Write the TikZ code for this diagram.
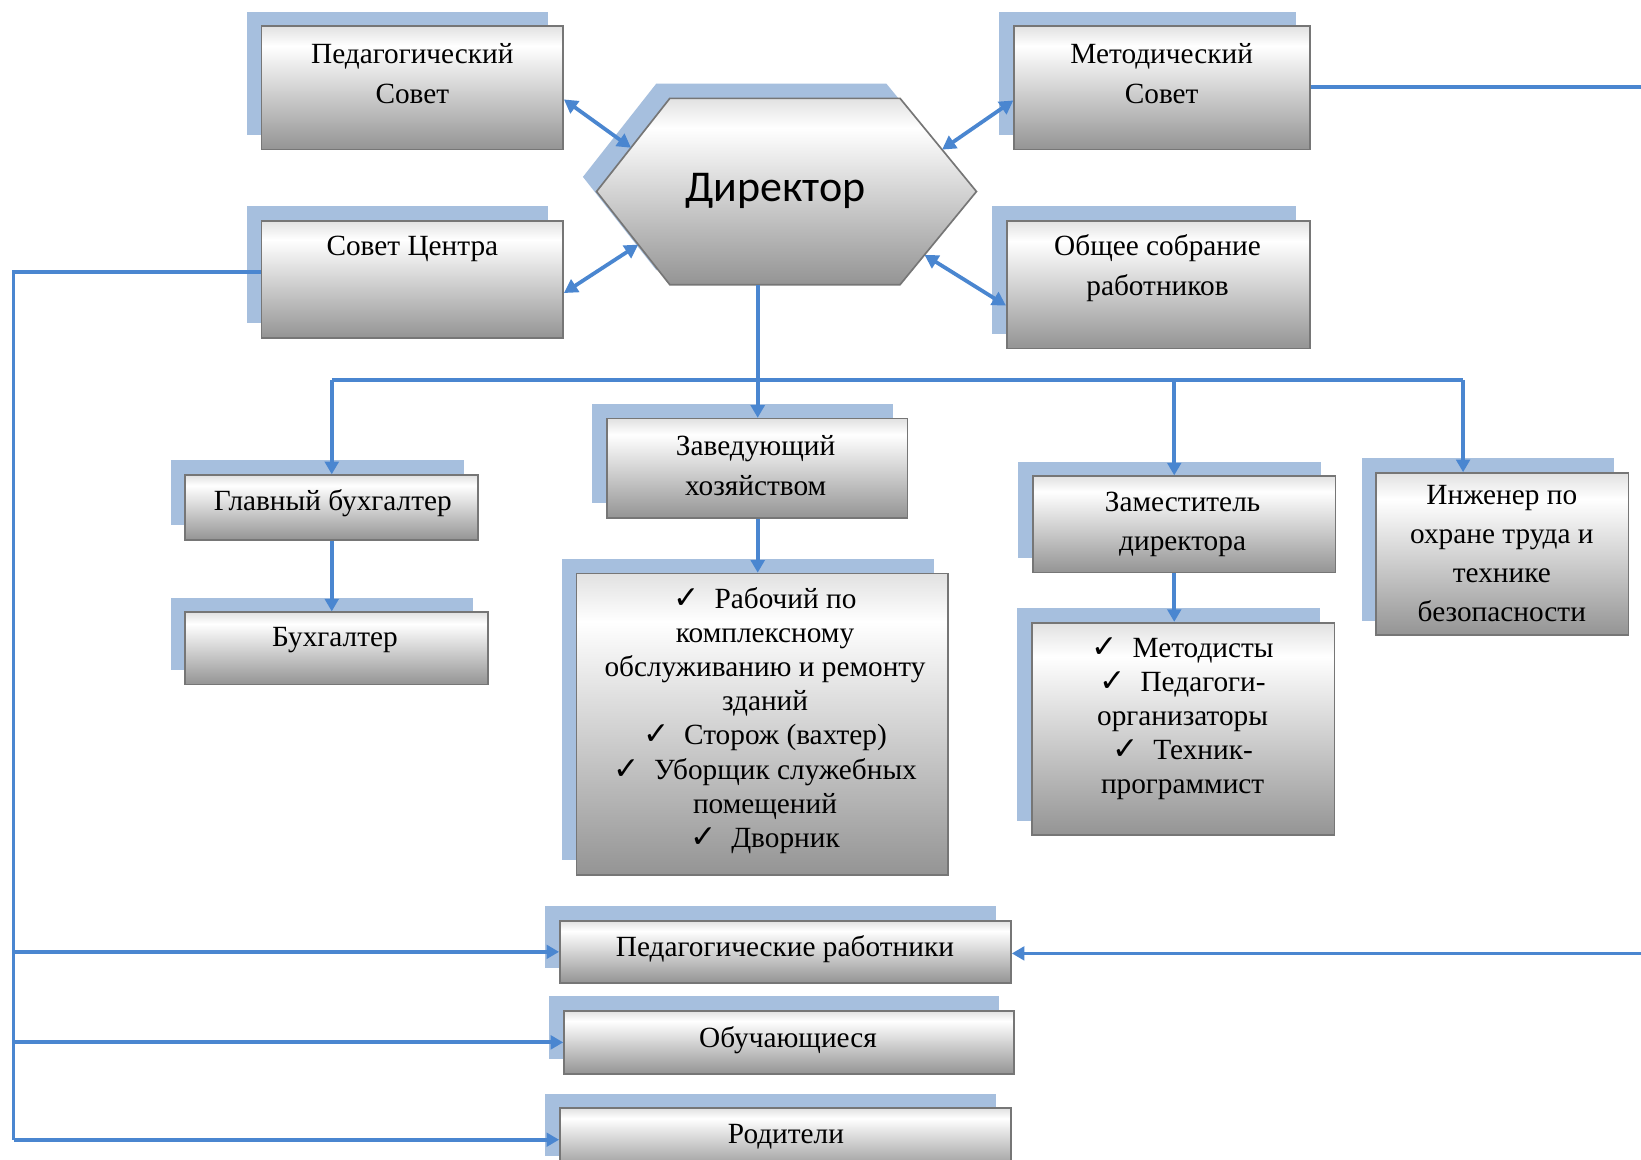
\documentclass[tikz,border=0pt]{standalone}
\usepackage{fontspec}
\setmainfont{Liberation Serif}
\newfontfamily\dirfont{Carlito}
\newfontfamily\symfont{DejaVu Sans}
\usetikzlibrary{arrows.meta,shadows,calc}
\definecolor{shblue}{RGB}{166,191,222}
\definecolor{lnblue}{RGB}{74,134,208}
\definecolor{bord}{RGB}{118,118,118}
\definecolor{gtop}{RGB}{225,225,225}
\definecolor{gbot}{RGB}{148,148,148}
\pgfdeclareverticalshading{boxshade}{100bp}{color(0bp)=(gbot);color(25bp)=(gbot);color(67bp)=(white);color(75bp)=(gtop);color(100bp)=(gtop)}
\newcommand{\chk}{{\symfont\fontsize{30}{30}\selectfont ✓}\enspace}
\begin{document}
\begin{tikzpicture}[x=1pt,y=-1pt,
  box/.style={draw=bord, line width=1.6pt, shade, shading=boxshade,
    general shadow={fill=shblue, shadow xshift=-14pt, shadow yshift=14pt},
    inner sep=0pt},
  txt/.style={font=\fontsize{28}{38}\selectfont, align=center, inner sep=0pt},
  lst/.style={font=\fontsize{28}{32.6}\selectfont, align=center, inner sep=0pt},
  conn/.style={draw=lnblue, line width=3.6pt},
  tip/.style={-{Triangle[length=12pt,width=13pt]}},
  dtip/.style={{Triangle[length=13pt,width=14pt]}-{Triangle[length=13pt,width=14pt]}}
]
\useasboundingbox[fill=white] (0,0) rectangle (1568,1108);

% Director hexagon
\coordinate (h1) at (570,183);
\coordinate (h2) at (640,94);
\coordinate (h3) at (860,94);
\coordinate (h4) at (933,183);
\coordinate (h5) at (860,272);
\coordinate (h6) at (640,272);
\fill[shblue] (557,169) -- (627,80) -- (847,80) -- (920,169) -- (847,258) -- (627,258) -- cycle;
\shade[shading=boxshade, draw=bord, line width=1.6pt] (h1) -- (h2) -- (h3) -- (h4) -- (h5) -- (h6) -- cycle;
\node[inner sep=0pt, font=\dirfont\fontsize{42}{42}\selectfont] (dir) at (741,182) {Директор};

% boxes
\node[box, minimum width=288pt, minimum height=118pt] (ps) at (394,84) {};
\node[txt] (pst) at (394,70) {Педагогический\\Совет};
\node[box, minimum width=283pt, minimum height=118pt] (ms) at (1110.5,84) {};
\node[txt] (mst) at (1110,70) {Методический\\Совет};
\node[box, minimum width=288pt, minimum height=112pt] (sc) at (394,267) {};
\node[txt] (sct) at (394,238) {Совет Центра};
\node[box, minimum width=290pt, minimum height=122pt] (os) at (1107,272) {};
\node[txt] (ost) at (1106,256.5) {Общее собрание\\работников};

\node[box, minimum width=287pt, minimum height=95pt] (zav) at (723.5,447.5) {};
\node[txt] (zavt) at (722,445) {Заведующий\\хозяйством};
\node[box, minimum width=280pt, minimum height=62pt] (gb) at (317,485) {};
\node[txt] (gbt) at (318,481) {Главный бухгалтер};
\node[box, minimum width=289pt, minimum height=69pt] (buh) at (321.5,619.5) {};
\node[txt] (buht) at (320,612) {Бухгалтер};
\node[box, minimum width=355pt, minimum height=288pt] (rab) at (728.5,692) {};
\node[lst] (rabt) at (731,688.5) {\chk Рабочий по\\комплексному\\обслуживанию и ремонту\\зданий\\\chk Сторож (вахтер)\\\chk Уборщик служебных\\помещений\\\chk Дворник};
\node[box, minimum width=289pt, minimum height=92pt] (zam) at (1131.5,501) {};
\node[txt] (zamt) at (1130,501) {Заместитель\\директора};
\node[box, minimum width=289pt, minimum height=203pt] (md) at (1130.5,696.5) {};
\node[lst] (mdt) at (1130,686.5) {\chk Методисты\\\chk Педагоги-\\организаторы\\\chk Техник-\\программист};
\node[box, minimum width=241pt, minimum height=155pt] (ing) at (1435.5,529.5) {};
\node[txt, font=\fontsize{28}{37.5}\selectfont] (ingt) at (1435,529) {Инженер по\\охране труда и\\технике\\безопасности};

\node[box, minimum width=431pt, minimum height=59pt] (ped) at (750.5,909.5) {};
\node[txt] (pedt) at (750,907) {Педагогические работники};
\node[box, minimum width=430pt, minimum height=60pt] (obu) at (754,996) {};
\node[txt] (obut) at (753,994) {Обучающиеся};
\node[box, minimum width=431pt, minimum height=60pt] (rod) at (750.5,1089) {};
\node[txt] (rodt) at (751,1086) {Родители};

% connectors around director
\draw[conn,dtip] ([yshift=-11pt]ps.east) -- ($(h1)!0.47!(h2)$);
\draw[conn,dtip] ([yshift=-13pt]sc.east) -- ($(h1)!0.57!(h6)$);
\draw[conn,dtip] ([yshift=-12pt]ms.west) -- ($(h3)!0.55!(h4)$);
\draw[conn,dtip] ([yshift=-20pt]os.west) -- ($(h4)!0.68!(h5)$);

% right side
\coordinate (r1) at (1568,83);
\coordinate (r2) at (1568,911);
\draw[conn] (ms.east |- r1) -- (r1);
\draw[conn,tip] (r2) -- (ped.east |- r2);

% left side
\coordinate (L) at (13,260);
\draw[conn] (sc.west |- L) -- (L) -- (L |- rod.west);
\draw[conn,tip] (L |- rod.west) -- (rod.west);
\draw[conn,tip] (L |- ped.west) -- (ped.west);
\draw[conn,tip] (L |- obu.west) -- (obu.west);

% tree below director
\coordinate (hb) at (724,272);
\coordinate (j) at (724,363);
\coordinate (b1) at (317,363);
\coordinate (b3) at (1122,363);
\coordinate (b4) at (1398,363);
\draw[conn] (hb) -- (j);
\draw[conn,tip] (j) -- (j |- zav.north);
\draw[conn] (b1) -- (b4);
\draw[conn,tip] (b1) -- (b1 |- gb.north);
\draw[conn,tip] (b3) -- (b3 |- zam.north);
\draw[conn,tip] (b4) -- (b4 |- ing.north);
\draw[conn,tip] (b1 |- gb.south) -- (b1 |- buh.north);
\draw[conn,tip] (j |- zav.south) -- (j |- rab.north);
\draw[conn,tip] (b3 |- zam.south) -- (b3 |- md.north);
\end{tikzpicture}
\end{document}
